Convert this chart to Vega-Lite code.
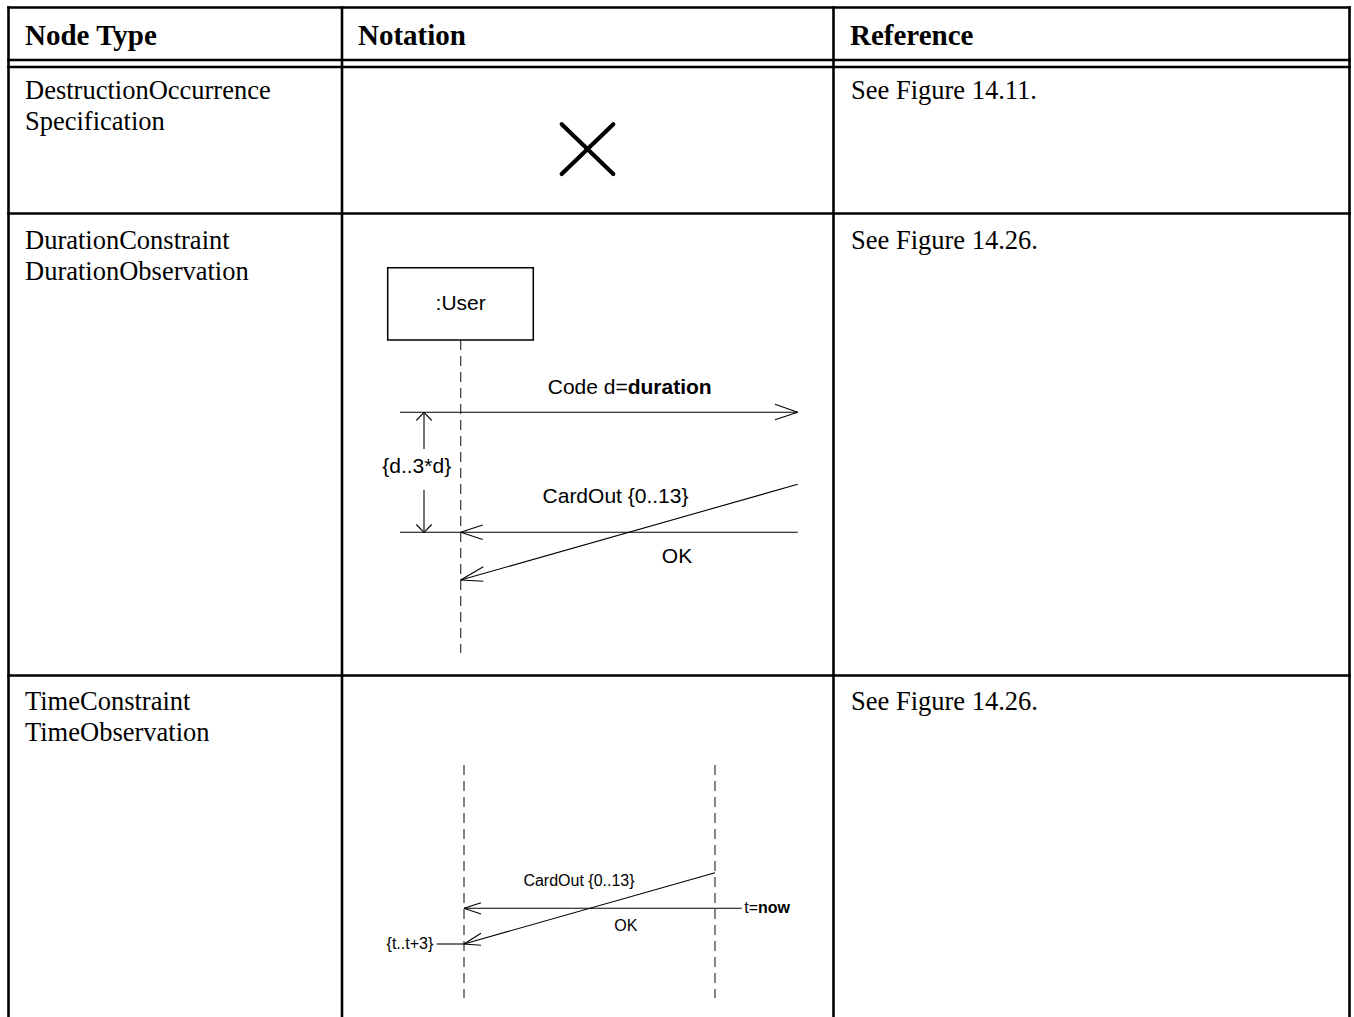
{
  "$schema": "https://vega.github.io/schema/vega-lite/v6.json",
  "width": 1354,
  "height": 1017,
  "padding": 0,
  "autosize": {"type": "none"},
  "background": "white",
  "config": {"view": {"stroke": null}},
  "datasets": {
    "table": [
      {"x": 8.5, "y": 7.5, "x2": 1349.5, "y2": 7.5},
      {"x": 8.5, "y": 60, "x2": 1349.5, "y2": 60},
      {"x": 8.5, "y": 67, "x2": 1349.5, "y2": 67},
      {"x": 8.5, "y": 213.5, "x2": 1349.5, "y2": 213.5},
      {"x": 8.5, "y": 675.5, "x2": 1349.5, "y2": 675.5},
      {"x": 8.5, "y": 7.5, "x2": 8.5, "y2": 1020},
      {"x": 342, "y": 7.5, "x2": 342, "y2": 1020},
      {"x": 833.5, "y": 7.5, "x2": 833.5, "y2": 1020},
      {"x": 1349.5, "y": 7.5, "x2": 1349.5, "y2": 1020}
    ],
    "cross": [
      {"x": 561.7, "y": 124.3, "x2": 613.3, "y2": 174},
      {"x": 561.7, "y": 174, "x2": 613.3, "y2": 124.3}
    ],
    "box": [
      {"x": 387.7, "y": 267.7, "x2": 533.3, "y2": 340}
    ],
    "dashed": [
      {"x": 460.7, "y": 340, "x2": 460.7, "y2": 653},
      {"x": 464, "y": 765, "x2": 464, "y2": 998},
      {"x": 715, "y": 765, "x2": 715, "y2": 998}
    ],
    "thin": [
      {"x": 400, "y": 412.3, "x2": 797.7, "y2": 412.3},
      {"x": 797.7, "y": 412.3, "x2": 775, "y2": 404.3},
      {"x": 797.7, "y": 412.3, "x2": 775, "y2": 419.7},
      {"x": 400, "y": 532.3, "x2": 797.7, "y2": 532.3},
      {"x": 460.7, "y": 532.3, "x2": 482.7, "y2": 525},
      {"x": 460.7, "y": 532.3, "x2": 482.7, "y2": 539.5},
      {"x": 797.7, "y": 484.3, "x2": 460.7, "y2": 580},
      {"x": 460.7, "y": 580, "x2": 483.3, "y2": 566.7},
      {"x": 460.7, "y": 580, "x2": 483.3, "y2": 581.3},
      {"x": 424, "y": 412.3, "x2": 424, "y2": 449},
      {"x": 424, "y": 490, "x2": 424, "y2": 532.3},
      {"x": 424, "y": 412.3, "x2": 416.3, "y2": 420.5},
      {"x": 424, "y": 412.3, "x2": 431.7, "y2": 420.5},
      {"x": 424, "y": 532.3, "x2": 416.3, "y2": 524.5},
      {"x": 424, "y": 532.3, "x2": 431.7, "y2": 524.5},
      {"x": 715, "y": 872.7, "x2": 464, "y2": 944},
      {"x": 464, "y": 944, "x2": 481, "y2": 933.3},
      {"x": 464, "y": 944, "x2": 481, "y2": 945.3},
      {"x": 464, "y": 908.3, "x2": 741.7, "y2": 908.3},
      {"x": 464, "y": 908.3, "x2": 481, "y2": 902.7},
      {"x": 464, "y": 908.3, "x2": 481, "y2": 914},
      {"x": 436.7, "y": 944, "x2": 464, "y2": 944}
    ],
    "header": [
      {"x": 25, "y": 45, "label": "Node Type"},
      {"x": 358, "y": 45, "label": "Notation"},
      {"x": 850, "y": 45, "label": "Reference"}
    ],
    "body": [
      {"x": 25, "y": 99, "label": "DestructionOccurrence"},
      {"x": 25, "y": 130, "label": "Specification"},
      {"x": 851, "y": 99, "label": "See Figure 14.11."},
      {"x": 25, "y": 249, "label": "DurationConstraint"},
      {"x": 25, "y": 280, "label": "DurationObservation"},
      {"x": 851, "y": 248.5, "label": "See Figure 14.26."},
      {"x": 25, "y": 709.5, "label": "TimeConstraint"},
      {"x": 25, "y": 740.5, "label": "TimeObservation"},
      {"x": 851, "y": 709.5, "label": "See Figure 14.26."}
    ],
    "diag2Center": [
      {"x": 460.7, "y": 310, "label": ":User"},
      {"x": 416.7, "y": 473.3, "label": "{d..3*d}"},
      {"x": 615.5, "y": 502.7, "label": "CardOut {0..13}"},
      {"x": 677, "y": 562.7, "label": "OK"}
    ],
    "diag2Right": [
      {"x": 627.7, "y": 394.3, "label": "Code d="}
    ],
    "diag2Bold": [
      {"x": 627.7, "y": 394.3, "label": "duration"}
    ],
    "diag3Center": [
      {"x": 579, "y": 886, "label": "CardOut {0..13}"},
      {"x": 625.8, "y": 930.7, "label": "OK"}
    ],
    "diag3Right": [
      {"x": 433.3, "y": 949, "label": "{t..t+3}"},
      {"x": 758, "y": 913, "label": "t="}
    ],
    "diag3Bold": [
      {"x": 758, "y": 913, "label": "now"}
    ]
  },
  "layer": [
    {
      "data": {"name": "table"},
      "mark": {"type": "rule", "color": "black", "strokeWidth": 2.6, "strokeCap": "square"},
      "encoding": {
        "x": {"field": "x", "type": "quantitative", "scale": {"domain": [0, 1354], "nice": false, "zero": false}, "axis": null},
        "y": {"field": "y", "type": "quantitative", "scale": {"domain": [0, 1017], "reverse": true, "nice": false, "zero": false}, "axis": null},
        "x2": {"field": "x2"},
        "y2": {"field": "y2"}
      }
    },
    {
      "data": {"name": "cross"},
      "mark": {"type": "rule", "color": "black", "strokeWidth": 4.2, "strokeCap": "round"},
      "encoding": {
        "x": {"field": "x", "type": "quantitative", "axis": null},
        "y": {"field": "y", "type": "quantitative", "axis": null},
        "x2": {"field": "x2"},
        "y2": {"field": "y2"}
      }
    },
    {
      "data": {"name": "box"},
      "mark": {"type": "rect", "fill": "white", "stroke": "black", "strokeWidth": 1.5},
      "encoding": {
        "x": {"field": "x", "type": "quantitative", "axis": null},
        "y": {"field": "y", "type": "quantitative", "axis": null},
        "x2": {"field": "x2"},
        "y2": {"field": "y2"}
      }
    },
    {
      "data": {"name": "dashed"},
      "mark": {"type": "rule", "color": "#222", "strokeWidth": 1.1, "strokeDash": [10, 6]},
      "encoding": {
        "x": {"field": "x", "type": "quantitative", "axis": null},
        "y": {"field": "y", "type": "quantitative", "axis": null},
        "x2": {"field": "x2"},
        "y2": {"field": "y2"}
      }
    },
    {
      "data": {"name": "thin"},
      "mark": {"type": "rule", "color": "black", "strokeWidth": 1.1},
      "encoding": {
        "x": {"field": "x", "type": "quantitative", "axis": null},
        "y": {"field": "y", "type": "quantitative", "axis": null},
        "x2": {"field": "x2"},
        "y2": {"field": "y2"}
      }
    },
    {
      "data": {"name": "header"},
      "mark": {"type": "text", "font": "Liberation Serif", "fontSize": 29, "fontWeight": "bold", "align": "left", "baseline": "alphabetic", "color": "black"},
      "encoding": {
        "x": {"field": "x", "type": "quantitative", "axis": null},
        "y": {"field": "y", "type": "quantitative", "axis": null},
        "text": {"field": "label"}
      }
    },
    {
      "data": {"name": "body"},
      "mark": {"type": "text", "font": "Liberation Serif", "fontSize": 26.5, "align": "left", "baseline": "alphabetic", "color": "black"},
      "encoding": {
        "x": {"field": "x", "type": "quantitative", "axis": null},
        "y": {"field": "y", "type": "quantitative", "axis": null},
        "text": {"field": "label"}
      }
    },
    {
      "data": {"name": "diag2Center"},
      "mark": {"type": "text", "font": "Liberation Sans", "fontSize": 21, "align": "center", "baseline": "alphabetic", "color": "black"},
      "encoding": {
        "x": {"field": "x", "type": "quantitative", "axis": null},
        "y": {"field": "y", "type": "quantitative", "axis": null},
        "text": {"field": "label"}
      }
    },
    {
      "data": {"name": "diag2Right"},
      "mark": {"type": "text", "font": "Liberation Sans", "fontSize": 21, "align": "right", "baseline": "alphabetic", "color": "black"},
      "encoding": {
        "x": {"field": "x", "type": "quantitative", "axis": null},
        "y": {"field": "y", "type": "quantitative", "axis": null},
        "text": {"field": "label"}
      }
    },
    {
      "data": {"name": "diag2Bold"},
      "mark": {"type": "text", "font": "Liberation Sans", "fontSize": 21, "fontWeight": "bold", "align": "left", "baseline": "alphabetic", "color": "black"},
      "encoding": {
        "x": {"field": "x", "type": "quantitative", "axis": null},
        "y": {"field": "y", "type": "quantitative", "axis": null},
        "text": {"field": "label"}
      }
    },
    {
      "data": {"name": "diag3Center"},
      "mark": {"type": "text", "font": "Liberation Sans", "fontSize": 16, "align": "center", "baseline": "alphabetic", "color": "black"},
      "encoding": {
        "x": {"field": "x", "type": "quantitative", "axis": null},
        "y": {"field": "y", "type": "quantitative", "axis": null},
        "text": {"field": "label"}
      }
    },
    {
      "data": {"name": "diag3Right"},
      "mark": {"type": "text", "font": "Liberation Sans", "fontSize": 16, "align": "right", "baseline": "alphabetic", "color": "black"},
      "encoding": {
        "x": {"field": "x", "type": "quantitative", "axis": null},
        "y": {"field": "y", "type": "quantitative", "axis": null},
        "text": {"field": "label"}
      }
    },
    {
      "data": {"name": "diag3Bold"},
      "mark": {"type": "text", "font": "Liberation Sans", "fontSize": 16, "fontWeight": "bold", "align": "left", "baseline": "alphabetic", "color": "black"},
      "encoding": {
        "x": {"field": "x", "type": "quantitative", "axis": null},
        "y": {"field": "y", "type": "quantitative", "axis": null},
        "text": {"field": "label"}
      }
    }
  ]
}
